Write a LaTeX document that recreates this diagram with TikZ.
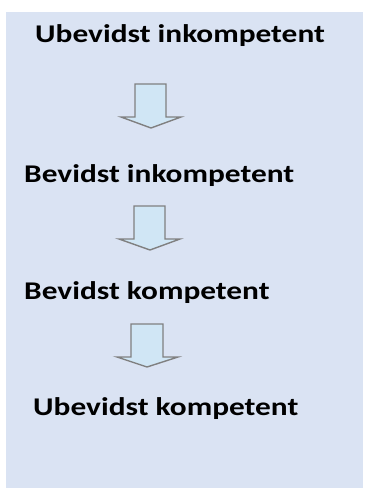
\documentclass[tikz,border=0pt]{standalone}
\usepackage{fontspec}
\setmainfont{Carlito}
\definecolor{bgblue}{RGB}{218,227,243}
\definecolor{arrfill}{RGB}{208,230,245}
\definecolor{arrline}{RGB}{128,128,128}
\begin{document}
\begin{tikzpicture}[x=1pt,y=-1pt,
  lbl/.style={anchor=base west,inner sep=0pt,xscale=1.23,font=\fontsize{25.5}{30}\selectfont\bfseries},
  downarrow/.style={fill=arrfill,draw=arrline,line width=1.4pt,line join=miter}]
\useasboundingbox (0,0) rectangle (367,489);
\fill[bgblue] (6,12) rectangle (363,488);
\node[lbl] (t1) at (35,43) {Ubevidst inkompetent};
\node[lbl] (t2) at (24,182) {Bevidst inkompetent};
\node[lbl] (t3) at (24,299) {Bevidst kompetent};
\node[lbl] (t4) at (33,415) {Ubevidst kompetent};
\draw[downarrow] (135,84) -- (166,84) -- (166,117) -- (181,117) -- (151,128) -- (121,117) -- (135,117) -- cycle;
\draw[downarrow] (134,206) -- (165,206) -- (165,239) -- (180,239) -- (150,250) -- (119,239) -- (134,239) -- cycle;
\draw[downarrow] (131,324) -- (163,324) -- (163,357) -- (178,357) -- (147,367) -- (117,357) -- (131,357) -- cycle;
\end{tikzpicture}
\end{document}
